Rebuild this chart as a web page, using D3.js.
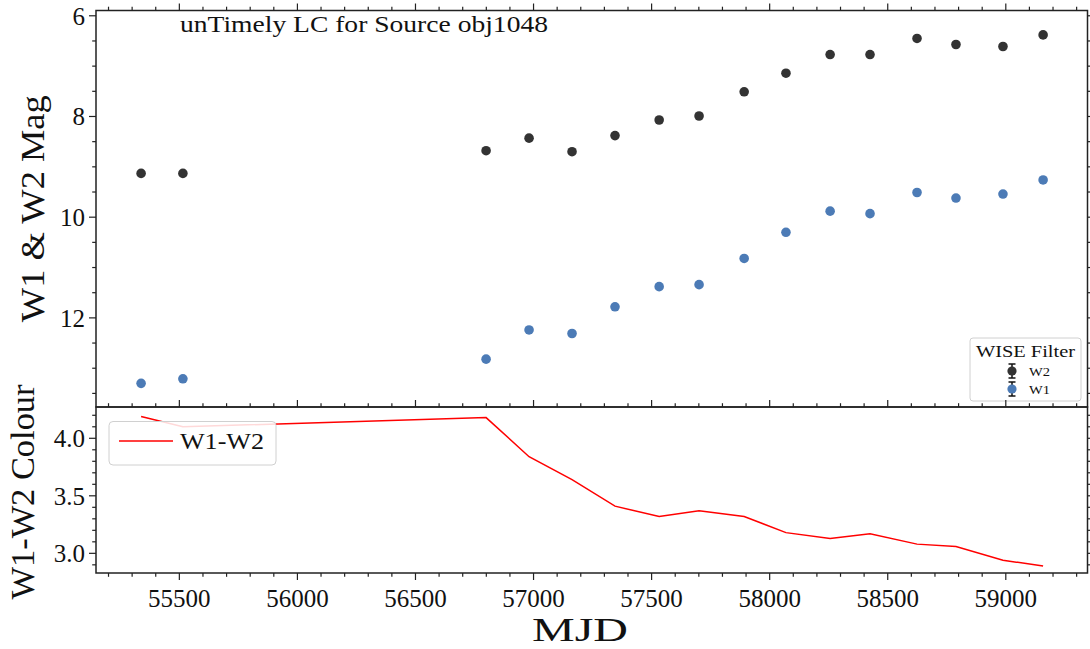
<!DOCTYPE html>
<html>
<head>
<meta charset="utf-8">
<script src="https://cdn.jsdelivr.net/npm/d3@7"></script>
<style>
  html, body { margin: 0; padding: 0; background: #fff; }
  svg { display: block; }
  text { font-family: "Liberation Serif", "DejaVu Serif", serif; fill: #111; }
</style>
</head>
<body>
<svg id="chart" width="1090" height="649"></svg>
<script>
// ---- data ----
const mjd = [55338, 55515, 56799, 56981, 57163, 57345, 57532, 57701, 57892, 58069, 58256, 58425, 58624, 58789, 58988, 59158];
const w2Mag = [9.13, 9.13, 8.68, 8.43, 8.70, 8.38, 8.07, 7.99, 7.51, 7.14, 6.77, 6.77, 6.45, 6.57, 6.61, 6.38];
const w1Mag = [13.30, 13.21, 12.82, 12.24, 12.31, 11.78, 11.38, 11.34, 10.82, 10.30, 9.88, 9.93, 9.51, 9.62, 9.54, 9.26];
const colourW1W2 = [4.19, 4.10, 4.18, 3.84, 3.64, 3.41, 3.32, 3.37, 3.32, 3.18, 3.13, 3.17, 3.08, 3.06, 2.94, 2.89];
const xTicks = [55500, 56000, 56500, 57000, 57500, 58000, 58500, 59000];
const magTicks = [6, 8, 10, 12];
const colourTicks = [3.0, 3.5, 4.0];
const titleText = "unTimely LC for Source obj1048";

// ---- layout ----
const svg = d3.select("#chart");
const L = 96, R = 1087.5;
const T1 = 10.5, B1 = 407, B2 = 573;
const axisColor = "#222";

const x = d3.scaleLinear().domain([55147, 59346]).range([L, R]);
const yMag = d3.scaleLinear().domain([5.895, 13.77]).range([T1, B1]);
const yCol = d3.scaleLinear().domain([4.272, 2.829]).range([B1, B2]);

function range(a, b, s) { const r = []; for (let v = a; v <= b + 1e-9; v += s) r.push(+v.toFixed(4)); return r; }
const xMinor = range(55200, 59300, 100).filter(v => v % 500 !== 0);
const magMinor = range(6, 13.5, 0.5).filter(v => v % 2 !== 0);
const colMinor = range(2.9, 4.2, 0.1).filter(v => Math.abs(v * 2 - Math.round(v * 2)) > 1e-6);

function stretched(sel, len) {
  return sel.attr("textLength", len).attr("lengthAdjust", "spacingAndGlyphs");
}

function tickSet(g, scale, orient, pos, majors, minors, labels, fmt) {
  const maj = 7, min = 3.8;
  const lo = Math.min(...scale.range()), hi = Math.max(...scale.range());
  const mk = (vals, len) => vals.forEach(v => {
    const p = scale(v);
    if (p < lo - 0.5 || p > hi + 0.5) return;
    let l;
    if (orient === "left") l = [pos - len, p, pos, p];
    if (orient === "right") l = [pos, p, pos + len, p];
    if (orient === "top") l = [p, pos - len, p, pos];
    if (orient === "bottom") l = [p, pos, p, pos + len];
    g.append("line").attr("x1", l[0]).attr("y1", l[1]).attr("x2", l[2]).attr("y2", l[3])
      .attr("stroke", axisColor).attr("stroke-width", 1.2);
  });
  mk(majors, maj); mk(minors, min);
  if (labels) {
    majors.forEach(v => {
      const p = scale(v);
      if (orient === "left") {
        g.append("text").attr("x", pos - 11).attr("y", p).attr("dy", "0.35em")
          .attr("text-anchor", "end").attr("font-size", 25).text(fmt(v));
      } else if (orient === "bottom") {
        g.append("text").attr("x", p).attr("y", pos + 34)
          .attr("text-anchor", "middle").attr("font-size", 25).text(fmt(v));
      }
    });
  }
}

const g = svg.append("g");

// ---- top panel ----
g.append("g").selectAll("circle").data(mjd).join("circle")
  .attr("cx", (d) => x(d)).attr("cy", (d, i) => yMag(w2Mag[i])).attr("r", 4.8)
  .attr("fill", "#333333");
g.append("g").selectAll("circle").data(mjd).join("circle")
  .attr("cx", (d) => x(d)).attr("cy", (d, i) => yMag(w1Mag[i])).attr("r", 4.8)
  .attr("fill", "#4c7bb6");

// title
stretched(g.append("text").attr("x", 180).attr("y", 32).attr("font-size", 23).text(titleText), 368);

// legend (top)
const lg = g.append("g");
lg.append("rect").attr("x", 970).attr("y", 338).attr("width", 111).attr("height", 63)
  .attr("rx", 3).attr("fill", "rgba(255,255,255,0.85)").attr("stroke", "#d0d0d0").attr("stroke-width", 1);
stretched(lg.append("text").attr("x", 976).attr("y", 357).attr("font-size", 16).text("WISE Filter"), 99);
[["W2", "#333333", 371], ["W1", "#4c7bb6", 389]].forEach(([lab, col, yy]) => {
  lg.append("line").attr("x1", 1012).attr("x2", 1012).attr("y1", yy - 7).attr("y2", yy + 7).attr("stroke", "#111").attr("stroke-width", 1.5);
  lg.append("line").attr("x1", 1008.5).attr("x2", 1015.5).attr("y1", yy - 7).attr("y2", yy - 7).attr("stroke", "#111").attr("stroke-width", 1.5);
  lg.append("line").attr("x1", 1008.5).attr("x2", 1015.5).attr("y1", yy + 7).attr("y2", yy + 7).attr("stroke", "#111").attr("stroke-width", 1.5);
  lg.append("circle").attr("cx", 1012).attr("cy", yy).attr("r", 4.6).attr("fill", col);
  stretched(lg.append("text").attr("x", 1029).attr("y", yy).attr("dy", "0.35em").attr("font-size", 13).text(lab), 21);
});

// ---- bottom panel ----
const line = d3.line().x((d) => x(d[0])).y((d) => yCol(d[1]));
g.append("path").datum(mjd.map((m, i) => [m, colourW1W2[i]]))
  .attr("d", line).attr("fill", "none").attr("stroke", "#ff0000").attr("stroke-width", 1.5);

const lg2 = g.append("g");
lg2.append("rect").attr("x", 109).attr("y", 421.5).attr("width", 167).attr("height", 43.5)
  .attr("rx", 4).attr("fill", "rgba(255,255,255,0.85)").attr("stroke", "#d0d0d0").attr("stroke-width", 1);
lg2.append("line").attr("x1", 119).attr("x2", 173).attr("y1", 441).attr("y2", 441).attr("stroke", "#ff0000").attr("stroke-width", 1.5);
stretched(lg2.append("text").attr("x", 180).attr("y", 441).attr("dy", "0.35em").attr("font-size", 24).text("W1-W2"), 84);

// ---- frames & ticks ----
[[T1, B1], [B1, B2]].forEach(([t, b]) => {
  g.append("rect").attr("x", L).attr("y", t).attr("width", R - L).attr("height", b - t)
    .attr("fill", "none").attr("stroke", axisColor).attr("stroke-width", 1.5);
});
const ax = g.append("g");
tickSet(ax, x, "top", T1, xTicks, xMinor, false);
tickSet(ax, yMag, "left", L, magTicks, magMinor, true, d3.format("d"));
tickSet(ax, yMag, "right", R, magTicks, magMinor, false);
tickSet(ax, x, "top", B1, xTicks, xMinor, false);
tickSet(ax, x, "bottom", B2, xTicks, xMinor, true, d3.format("d"));
tickSet(ax, yCol, "left", L, colourTicks, colMinor, true, d3.format(".1f"));
tickSet(ax, yCol, "right", R, colourTicks, colMinor, false);

// axis labels
stretched(g.append("text").attr("transform", `translate(44,${(T1 + B1) / 2}) rotate(-90)`)
  .attr("text-anchor", "middle").attr("font-size", 33).text("W1 & W2 Mag"), 227);
stretched(g.append("text").attr("transform", `translate(34,${(B1 + B2) / 2 + 2}) rotate(-90)`)
  .attr("text-anchor", "middle").attr("font-size", 33).text("W1-W2 Colour"), 215);
stretched(g.append("text").attr("x", 580).attr("y", 641).attr("text-anchor", "middle").attr("font-size", 34).text("MJD"), 96);
</script>
</body>
</html>
